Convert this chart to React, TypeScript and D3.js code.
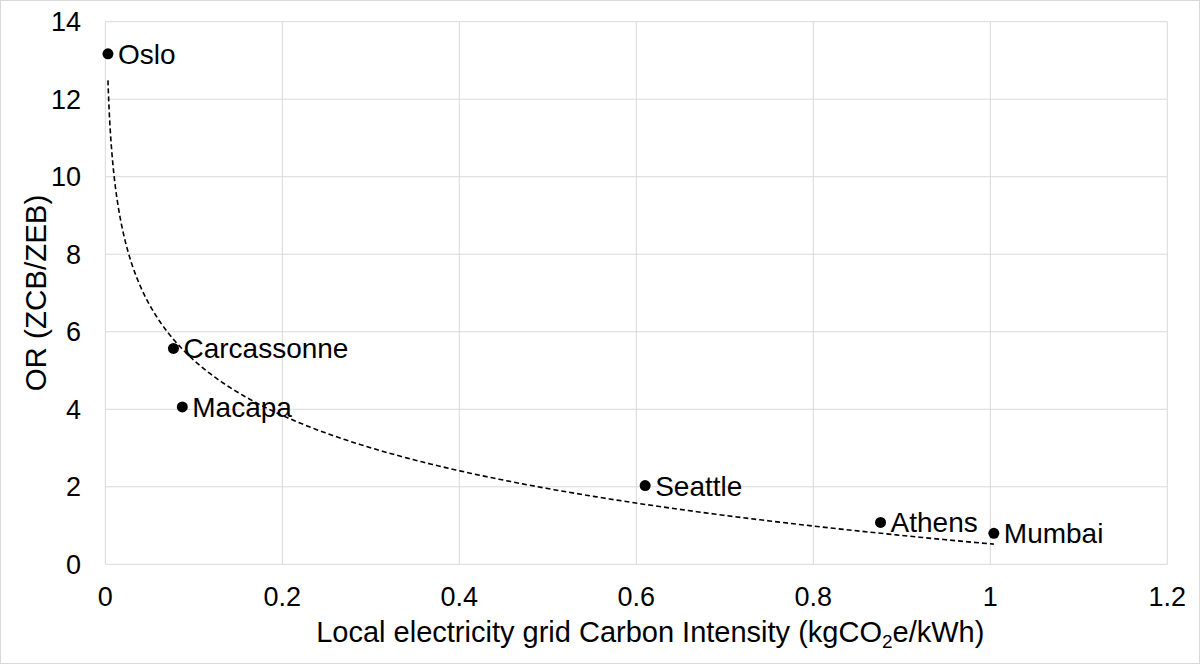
import { useEffect, useRef } from 'react';
import * as d3 from 'd3';

const cities = ['Oslo', 'Carcassonne', 'Macapa', 'Seattle', 'Athens', 'Mumbai'];
const carbonIntensity = [0.003, 0.077, 0.087, 0.61, 0.876, 1.004];
const ratio = [13.17, 5.57, 4.06, 2.03, 1.08, 0.8];
const xTicks = [0, 0.2, 0.4, 0.6, 0.8, 1, 1.2];
const yTicks = [0, 2, 4, 6, 8, 10, 12, 14];

const W = 1200;
const H = 664;
const FONT = '"Liberation Sans", Arial, sans-serif';

export default function App() {
  const svgRef = useRef<SVGSVGElement>(null);

  useEffect(() => {
    if (!svgRef.current) return;
    const svg = d3.select(svgRef.current);
    svg.selectAll('*').remove();

    const x = d3.scaleLinear().domain([0, 1.2]).range([105.3, 1167.3]);
    const y = d3.scaleLinear().domain([0, 14]).range([564.3, 21.7]);

    // outer frame
    svg.append('rect')
      .attr('x', 0.5).attr('y', 0.5)
      .attr('width', W - 1).attr('height', H - 1)
      .attr('fill', '#fff')
      .attr('stroke', '#d9d9d9');

    // grid
    svg.append('g').selectAll('line').data(yTicks).join('line')
      .attr('x1', x(0)).attr('x2', x(1.2))
      .attr('y1', d => y(d)).attr('y2', d => y(d))
      .attr('stroke', '#d9d9d9').attr('stroke-width', 1);
    svg.append('g').selectAll('line').data(xTicks).join('line')
      .attr('x1', d => x(d)).attr('x2', d => x(d))
      .attr('y1', y(0)).attr('y2', y(14))
      .attr('stroke', '#d9d9d9').attr('stroke-width', 1);

    // tick labels
    svg.append('g').selectAll('text').data(yTicks).join('text')
      .attr('x', 81).attr('y', d => y(d) + 9.5)
      .attr('text-anchor', 'end')
      .attr('font-family', FONT).attr('font-size', 27).attr('fill', '#000')
      .text(d => String(d));
    svg.append('g').selectAll('text').data(xTicks).join('text')
      .attr('x', d => x(d)).attr('y', 606)
      .attr('text-anchor', 'middle')
      .attr('font-family', FONT).attr('font-size', 27).attr('fill', '#000')
      .text(d => String(d));

    // axis titles
    const xt = svg.append('text')
      .attr('x', x(0.6) + 14).attr('y', 642)
      .attr('text-anchor', 'middle')
      .attr('font-family', FONT).attr('font-size', 29).attr('fill', '#000');
    xt.append('tspan').text('Local electricity grid Carbon Intensity (kgCO');
    xt.append('tspan').attr('font-size', 19).attr('dy', 6).text('2');
    xt.append('tspan').attr('dy', -6).text('e/kWh)');

    svg.append('text')
      .attr('transform', `translate(46, ${y(7)}) rotate(-90)`)
      .attr('text-anchor', 'middle')
      .attr('font-family', FONT).attr('font-size', 29.5).attr('fill', '#000')
      .text('OR (ZCB/ZEB)');

    // logarithmic trendline fitted from the points
    const lx = carbonIntensity.map(v => Math.log(v));
    const mx = d3.mean(lx) as number;
    const my = d3.mean(ratio) as number;
    const sxy = d3.sum(lx, (v, i) => (v - mx) * (ratio[i] - my));
    const sxx = d3.sum(lx, v => (v - mx) ** 2);
    const b = sxy / sxx;
    const a = my - b * mx;
    const [x0, x1] = d3.extent(carbonIntensity) as [number, number];
    const samples = d3.range(0, 401).map(i => {
      const t = i / 400;
      const v = Math.exp(Math.log(x0) + t * (Math.log(x1) - Math.log(x0)));
      return { x: v, y: a + b * Math.log(v) };
    });
    const line = d3.line<{ x: number; y: number }>()
      .x(d => x(d.x))
      .y(d => y(d.y));
    svg.append('path')
      .datum(samples)
      .attr('d', line)
      .attr('fill', 'none')
      .attr('stroke', '#000')
      .attr('stroke-width', 1.6)
      .attr('stroke-dasharray', '5,3');

    // points + labels
    const pts = cities.map((c, i) => ({ c, x: carbonIntensity[i], y: ratio[i] }));
    svg.append('g').selectAll('circle').data(pts).join('circle')
      .attr('cx', d => x(d.x)).attr('cy', d => y(d.y))
      .attr('r', 5.5).attr('fill', '#000');
    svg.append('g').selectAll('text').data(pts).join('text')
      .attr('x', d => x(d.x) + 10).attr('y', d => y(d.y) + 10)
      .attr('font-family', FONT).attr('font-size', 28).attr('fill', '#000')
      .text(d => d.c);
  }, []);

  return (
    <svg
      ref={svgRef}
      width={W}
      height={H}
      style={{ position: 'absolute', top: 0, left: 0 }}
    />
  );
}
